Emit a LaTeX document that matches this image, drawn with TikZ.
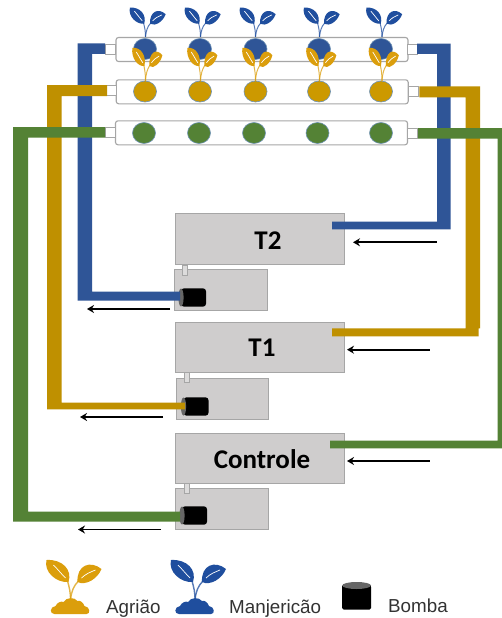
\documentclass[tikz,border=0pt]{standalone}
\usepackage{fontspec}
\setmainfont{Liberation Sans}
\newfontfamily\boldlabel[Ligatures=TeX]{Carlito}
\definecolor{pipeblue}{HTML}{2F5597}
\definecolor{pipegold}{HTML}{BF9000}
\definecolor{pipegreen}{HTML}{548235}
\definecolor{potgold}{HTML}{CC9900}
\definecolor{potedge}{HTML}{6F93B5}
\definecolor{plantblue}{HTML}{1F4E9E}
\definecolor{plantgold}{HTML}{DB9E0C}
\definecolor{tankfill}{HTML}{CFCDCD}
\definecolor{tankedge}{HTML}{A6A6A6}
\definecolor{txt}{HTML}{333333}
\tikzset{
  rail/.style={draw=tankedge,line width=1.1pt,fill=white,rounded corners=2.5pt,inner sep=0pt,minimum height=24pt,minimum width=292pt},
  joint/.style={draw=tankedge,line width=.8pt,fill=white,inner sep=0pt,minimum width=10pt,minimum height=10pt},
  pot/.style={ellipse,draw=potedge,line width=.6pt,inner sep=0pt,minimum width=23pt,minimum height=21pt},
  tank/.style={draw=tankedge,line width=1pt,fill=tankfill,inner sep=0pt},
  neck/.style={draw=tankedge,line width=.8pt,fill=tankfill!70!white,inner sep=0pt,minimum width=5pt,minimum height=10pt},
  tanklabel/.style={inner sep=0pt,font=\boldlabel\bfseries\fontsize{27}{27}\selectfont},
  legendtext/.style={inner sep=0pt,anchor=base west,text=txt,font=\fontsize{18.8}{19}\selectfont},
  flow/.style={draw=black,line width=1.9pt,-{Stealth[length=7pt,width=8pt]}},
  pics/plant/.style n args={2}{code={
    \draw[#1,line width=#2,opacity=.75] (0,0) .. controls (0,-8) and (-1,-12) .. (-3,-19);
    \draw[#1,line width=#2,opacity=.75] (0,0) .. controls (1,-9) and (3,-14) .. (8,-19);
    \fill[#1] (-2,-18) .. controls (2,-30) and (-8,-41) .. (-24,-40) .. controls (-27,-28) and (-14,-17) .. (-2,-18) -- cycle;
    \fill[#1] (7,-18) .. controls (6,-35) and (20,-40) .. (31,-31) .. controls (27,-21) and (15,-14) .. (7,-18) -- cycle;
    \draw[white,line width=.7pt] (-5,-22) .. controls (-9,-26) and (-13,-31) .. (-17,-35);
    \draw[white,line width=.7pt] (11,-22) .. controls (15,-26) and (20,-28) .. (25,-30);
  }},
  pics/soil/.style={code={
    \fill[#1] (-16,14) .. controls (-21,14) and (-21,7) .. (-15,6) .. controls (-13,2) and (-9,1) .. (-7,2) .. controls (-4,-3) and (4,-3) .. (7,1) .. controls (10,0) and (13,3) .. (14,6) .. controls (20,7) and (20,14) .. (16,14) -- cycle;
  }},
  pics/pump/.style={code={
    \fill[black,rounded corners=3pt] (0,-9.2) rectangle (25,9.2);
    \fill[black!60] (0,0) ellipse [x radius=2.6,y radius=9];
  }}
}
\usetikzlibrary{arrows.meta,shapes.geometric}
\begin{document}
\begin{tikzpicture}[x=1pt,y=-1pt]
\useasboundingbox (0,0) rectangle (502,618);
\fill[white] (0,0) rectangle (502,618);

% rails
\node[rail] (railA) at (262,49.5) {};
\node[rail] (railB) at (262.2,91.8) {};
\node[rail] (railC) at (261.5,132.8) {};
% pots
\foreach \x/\n in {145/1,200/2,255.5/3,319/4,381/5}{
  \node[pot,fill=pipeblue] (pa\n) at (\x,49) {};
  \node[pot,fill=potgold] (pb\n) at (\x,91.5) {};
}
\foreach \x/\n in {144/1,199/2,254/3,317.5/4,381/5}{
  \node[pot,fill=pipegreen] (pc\n) at (\x,133) {};
}
% plants above pots
\foreach \x in {145.5,200.5,255.5,319.5,382}{
  \pic[xscale=.65,yscale=.735] at (\x,37) {plant={plantblue}{1pt}};
  \pic[xscale=.545,yscale=.83] at (\x,81) {plant={plantgold}{1pt}};
}
% joints
\node[joint] (ja) at (110.5,49) {};
\node[joint] (jb) at (111.5,90.5) {};
\node[joint] (jc) at (110,132) {};
\node[joint] (ka) at (412.5,49.5) {};
\node[joint] (kb) at (413.7,91.7) {};
\node[joint] (kc) at (412.7,133) {};

% tanks
\node[tank,minimum width=169.5pt,minimum height=50.5pt] (T2) at (259.8,239.2) {};
\node[tank,minimum width=92.5pt,minimum height=40.5pt] (S2) at (220.8,290.2) {};
\node[neck] (n2) at (184.8,270) {};
\node[tank,minimum width=169.5pt,minimum height=50pt] (T1) at (259.8,347) {};
\node[tank,minimum width=92pt,minimum height=41.5pt] (S1) at (222.5,399.2) {};
\node[neck] (n1) at (186.5,377.5) {};
\node[tank,minimum width=169.5pt,minimum height=50pt] (T0) at (259.8,458) {};
\node[tank,minimum width=93pt,minimum height=41pt] (S0) at (222,508.5) {};
\node[neck] (n0) at (186.5,488.5) {};
\node[tanklabel] (lT2) at (268,241) {T2};
\node[tanklabel] (lT1) at (262,348) {T1};
\node[tanklabel] (lT0) at (262,459) {Controle};

% pumps
\pic at (181,297.5) {pump};
\pic at (183.5,406.5) {pump};
\pic at (182,515.5) {pump};

% pipes
\fill[pipeblue] (105,43.5) -- (77.5,43.5) -- (77.5,300.5) -- (180,300.5) -- (180,291.5) -- (92,291.5) -- (92,54) -- (105,54) -- cycle;
\fill[pipeblue] (417,43.7) -- (450.6,43.7) -- (450.6,229.3) -- (332,229.3) -- (332,221.7) -- (437,221.7) -- (437,54) -- (417,54) -- cycle;
\fill[pipegold] (107,85) -- (47,85) -- (47,409.3) -- (185,409.3) -- (185,402.7) -- (61.5,402.7) -- (61.5,96) -- (107,96) -- cycle;
\fill[pipegold] (419.3,86.3) -- (480,86.3) -- (480,328.3) -- (478.5,328.3) -- (478.5,336.3) -- (332,336.3) -- (332,328.3) -- (465.5,328.3) -- (465.5,97.3) -- (419.3,97.3) -- cycle;
\fill[pipegreen] (105,127) -- (13,127) -- (13,521.5) -- (180,521.5) -- (180,511.5) -- (28,511.5) -- (28,137.5) -- (105,137.5) -- cycle;
\fill[pipegreen] (418,128) -- (502,128) -- (502,448.3) -- (330,448.3) -- (330,440.7) -- (497.5,440.7) -- (497.5,138.7) -- (418,138.7) -- cycle;

% flow arrows
\coordinate (a1s) at (170,309); \coordinate (a1e) at (87,309);
\coordinate (a2s) at (163,417); \coordinate (a2e) at (80,417);
\coordinate (a3s) at (161,529.5); \coordinate (a3e) at (78,529.5);
\coordinate (b1s) at (436.5,242.3); \coordinate (b1e) at (353,242.3);
\coordinate (b2s) at (429.5,349.7); \coordinate (b2e) at (347,349.7);
\coordinate (b3s) at (429.5,461); \coordinate (b3e) at (347,461);
\foreach \n in {a1,a2,a3,b1,b2,b3}{\draw[flow] (\n s) -- (\n e);}

% legend
\pic at (70.5,600) {plant={plantgold}{1.4pt}};
\pic at (70.5,600) {soil=plantgold};
\pic at (195,600) {plant={plantblue}{1.4pt}};
\pic at (195,600) {soil=plantblue};
\node[legendtext] (lg1) at (106,613) {Agrião};
\node[legendtext] (lg2) at (229,613) {Manjericão};
\node[legendtext] (lg3) at (388,612) {Bomba};
\fill[black,rounded corners=1.5pt] (342.2,585.5) rectangle (371,609.5);
\fill[black] (342.2,586) -- (342.2,600) -- (371,600) -- (371,586) -- cycle;
\fill[black!60] (356.6,585.5) ellipse [x radius=14.4,y radius=3.5];
\end{tikzpicture}
\end{document}
